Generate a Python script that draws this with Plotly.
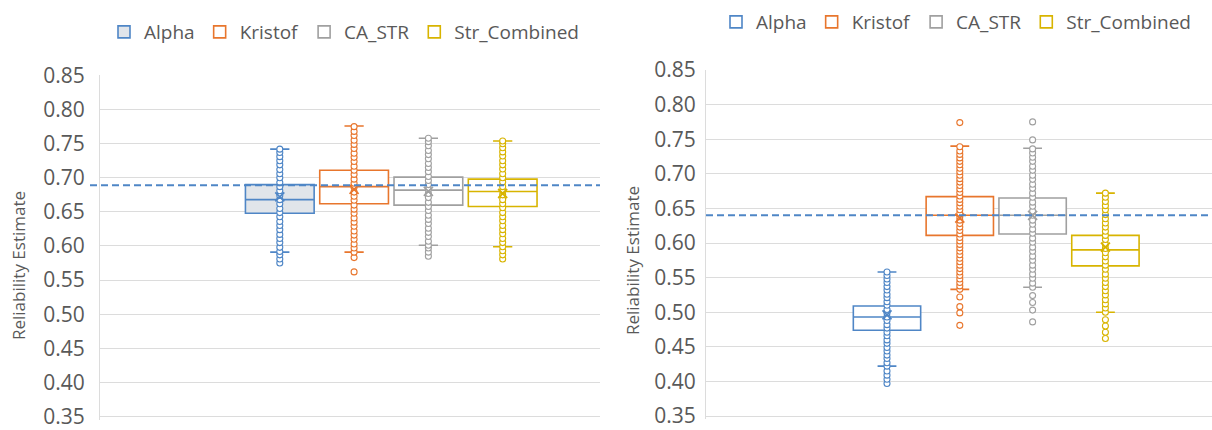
import plotly.graph_objects as go

# ---------------- data ----------------
series = ["Alpha", "Kristof", "CA_STR", "Str_Combined"]
colors = ["#4f86c6", "#e8762d", "#a0a0a0", "#d8b400"]

# Left panel statistics
left_q1 = [0.648, 0.662, 0.660, 0.658]
left_median = [0.668, 0.687, 0.682, 0.680]
left_q3 = [0.690, 0.711, 0.701, 0.698]
left_lowerfence = [0.591, 0.591, 0.601, 0.599]
left_upperfence = [0.742, 0.776, 0.758, 0.754]
left_mean = [0.672, 0.683, 0.680, 0.677]
left_reference = 0.689

left_alpha_pts = [0.575, 0.581, 0.587, 0.592, 0.598, 0.605, 0.611, 0.617, 0.624, 0.630,
                  0.636, 0.643, 0.649, 0.655, 0.662, 0.668, 0.674, 0.681, 0.687, 0.693,
                  0.700, 0.706, 0.712, 0.719, 0.725, 0.731, 0.737, 0.742]
left_kristof_pts = [0.562, 0.583, 0.591, 0.597, 0.603, 0.610, 0.616, 0.622, 0.629, 0.635,
                    0.641, 0.648, 0.654, 0.660, 0.667, 0.673, 0.679, 0.686, 0.692, 0.698,
                    0.705, 0.711, 0.717, 0.724, 0.730, 0.736, 0.743, 0.749, 0.755, 0.762,
                    0.768, 0.775]
left_castr_pts = [0.585, 0.591, 0.597, 0.601, 0.607, 0.614, 0.620, 0.626, 0.633, 0.639,
                  0.645, 0.652, 0.658, 0.664, 0.671, 0.677, 0.683, 0.690, 0.696, 0.702,
                  0.709, 0.715, 0.721, 0.728, 0.734, 0.740, 0.747, 0.753, 0.758]
left_str_pts = [0.581, 0.587, 0.593, 0.599, 0.605, 0.611, 0.618, 0.624, 0.630, 0.637,
                0.643, 0.649, 0.656, 0.662, 0.668, 0.675, 0.681, 0.687, 0.694, 0.700,
                0.706, 0.713, 0.719, 0.725, 0.732, 0.738, 0.744, 0.750, 0.754]

# Right panel statistics
right_q1 = [0.474, 0.611, 0.613, 0.567]
right_median = [0.493, 0.640, 0.640, 0.590]
right_q3 = [0.509, 0.667, 0.665, 0.611]
right_lowerfence = [0.422, 0.533, 0.536, 0.500]
right_upperfence = [0.558, 0.740, 0.737, 0.672]
right_mean = [0.496, 0.636, 0.640, 0.594]
right_reference = 0.640

right_alpha_pts = [0.397, 0.403, 0.409, 0.415, 0.422, 0.427, 0.433, 0.438, 0.444, 0.449,
                   0.455, 0.460, 0.466, 0.471, 0.477, 0.482, 0.488, 0.493, 0.499, 0.504,
                   0.510, 0.515, 0.521, 0.526, 0.532, 0.537, 0.543, 0.548, 0.553, 0.558]
right_kristof_pts = [0.481, 0.499, 0.508, 0.522, 0.533, 0.538, 0.543, 0.548, 0.553, 0.558,
                     0.563, 0.568, 0.573, 0.578, 0.583, 0.588, 0.593, 0.598, 0.603, 0.608,
                     0.613, 0.618, 0.623, 0.628, 0.633, 0.638, 0.643, 0.648, 0.653, 0.658,
                     0.663, 0.668, 0.673, 0.678, 0.683, 0.688, 0.693, 0.698, 0.703, 0.708,
                     0.713, 0.718, 0.723, 0.728, 0.733, 0.739, 0.774]
right_castr_pts = [0.486, 0.503, 0.514, 0.524, 0.536, 0.542, 0.549, 0.555, 0.562, 0.568,
                   0.575, 0.581, 0.588, 0.594, 0.601, 0.607, 0.614, 0.620, 0.627, 0.633,
                   0.640, 0.646, 0.653, 0.659, 0.666, 0.672, 0.679, 0.685, 0.692, 0.698,
                   0.705, 0.711, 0.718, 0.724, 0.730, 0.736, 0.749, 0.775]
right_str_pts = [0.462, 0.471, 0.480, 0.489, 0.500, 0.506, 0.512, 0.518, 0.525, 0.531,
                 0.537, 0.543, 0.549, 0.555, 0.562, 0.568, 0.574, 0.580, 0.586, 0.592,
                 0.598, 0.605, 0.611, 0.617, 0.623, 0.629, 0.635, 0.641, 0.648, 0.654,
                 0.660, 0.666, 0.672]

tick_values = [0.35, 0.40, 0.45, 0.50, 0.55, 0.60, 0.65, 0.70, 0.75, 0.80, 0.85]
tick_labels = ["0.35", "0.40", "0.45", "0.50", "0.55", "0.60", "0.65", "0.70", "0.75", "0.80", "0.85"]
axis_title = "Reliability Estimate"

left_fill = ["#e1e5ea", "white", "white", "white"]
right_fill = ["white", "white", "white", "white"]

# ---------------- figure ----------------
W, H = 1212, 430
FONT = "Open Sans"
TXT = "#595959"
GRID = "#dcdcdc"

fig = go.Figure()

panels = [
    dict(xa="x", ya="y", leg="legend", q1=left_q1, med=left_median, q3=left_q3,
         lf=left_lowerfence, uf=left_upperfence, mean=left_mean, fill=left_fill,
         pts=[left_alpha_pts, left_kristof_pts, left_castr_pts, left_str_pts]),
    dict(xa="x2", ya="y2", leg="legend2", q1=right_q1, med=right_median, q3=right_q3,
         lf=right_lowerfence, uf=right_upperfence, mean=right_mean, fill=right_fill,
         pts=[right_alpha_pts, right_kristof_pts, right_castr_pts, right_str_pts]),
]

for p in panels:
    for i, name in enumerate(series):
        c = colors[i]
        fig.add_trace(go.Box(
            x=[name], q1=[p["q1"][i]], median=[p["med"][i]], q3=[p["q3"][i]],
            lowerfence=[p["lf"][i]], upperfence=[p["uf"][i]],
            name=name, line=dict(color=c, width=1.6), fillcolor=p["fill"][i],
            whiskerwidth=0.28, boxpoints=False, xaxis=p["xa"], yaxis=p["ya"],
            legend=p["leg"], hoverinfo="skip",
        ))
    for i, name in enumerate(series):
        c = colors[i]
        pts = p["pts"][i]
        fig.add_trace(go.Scatter(
            x=[name] * len(pts), y=pts, mode="markers",
            marker=dict(symbol="circle", size=6, color="white", line=dict(color=c, width=1.1)),
            showlegend=False, xaxis=p["xa"], yaxis=p["ya"], hoverinfo="skip",
        ))
        fig.add_trace(go.Scatter(
            x=[name], y=[p["mean"][i]], mode="markers",
            marker=dict(symbol="x-thin-open", size=9, color=c, line=dict(color=c, width=1.8)),
            showlegend=False, xaxis=p["xa"], yaxis=p["ya"], hoverinfo="skip",
        ))

# reference dashed lines
fig.add_shape(type="line", xref="paper", yref="y", x0=90 / W, x1=600 / W,
              y0=left_reference, y1=left_reference,
              line=dict(color="#4f86c6", width=2, dash="7px,4px"), layer="above")
fig.add_shape(type="line", xref="paper", yref="y2", x0=706 / W, x1=1.0,
              y0=right_reference, y1=right_reference,
              line=dict(color="#4f86c6", width=2, dash="7px,4px"), layer="above")

# axis titles
for xpos, ypos in [(18 / W, 1 - 266 / H), (632 / W, 1 - 261 / H)]:
    fig.add_annotation(text=axis_title, xref="paper", yref="paper", x=xpos, y=ypos,
                       xanchor="center", yanchor="middle", textangle=-90, showarrow=False,
                       font=dict(family=FONT, size=17, color=TXT))

xcommon = dict(type="category", categoryorder="array", categoryarray=series,
               showticklabels=False, showgrid=False, zeroline=False, showline=False,
               ticks="", fixedrange=True, automargin=False)
ycommon = dict(range=[0.345, 0.8505], tickvals=tick_values, ticktext=tick_labels,
               showgrid=True, gridcolor=GRID, gridwidth=1.3, zeroline=False,
               showline=True, linecolor=GRID, linewidth=1, ticks="",
               ticklabeloverflow="allow",
               tickfont=dict(family=FONT, size=21, color=TXT),
               fixedrange=True, automargin=False)

# pixel rows of the 0.85 and 0.35 gridlines in each panel
L_TOP, L_BOT = 75.5, 416.5
R_TOP, R_BOT = 70.0, 416.0
l_ppu = (L_BOT - L_TOP) / 0.5
r_ppu = (R_BOT - R_TOP) / 0.5

fig.update_layout(
    template="none",
    width=W, height=H,
    margin=dict(l=0, r=0, t=0, b=0, autoexpand=False),
    paper_bgcolor="white", plot_bgcolor="white",
    boxmode="overlay", boxgap=0.075, boxgroupgap=0,
    font=dict(family=FONT, color=TXT),
    xaxis=dict(domain=[100 / W, 600 / W], range=[-2.42, 4.31], anchor="y", **xcommon),
    yaxis=dict(domain=[1 - (L_BOT + 0.005 * l_ppu) / H, 1 - (L_TOP - 0.0005 * l_ppu) / H],
               anchor="x", ticklabelstandoff=10, **ycommon),
    xaxis2=dict(domain=[706 / W, 1.0], range=[-2.486, 4.464], anchor="y2", **xcommon),
    yaxis2=dict(domain=[1 - (R_BOT + 0.005 * r_ppu) / H, 1 - (R_TOP - 0.0005 * r_ppu) / H],
                anchor="x2", ticklabelstandoff=5, **ycommon),
    legend=dict(orientation="h", x=104 / W, xanchor="left", y=1 - 32 / H, yanchor="middle",
                font=dict(family=FONT, size=19, color=TXT), bgcolor="rgba(0,0,0,0)",
                itemclick=False, itemdoubleclick=False, tracegroupgap=0),
    legend2=dict(orientation="h", x=716 / W, xanchor="left", y=1 - 22 / H, yanchor="middle",
                 font=dict(family=FONT, size=19, color=TXT), bgcolor="rgba(0,0,0,0)",
                 itemclick=False, itemdoubleclick=False, tracegroupgap=0),
    showlegend=True,
)

fig.write_html("out.html",
               config={"displayModeBar": False},
               post_script="document.body.style.margin='0';document.body.style.overflow='hidden';")
